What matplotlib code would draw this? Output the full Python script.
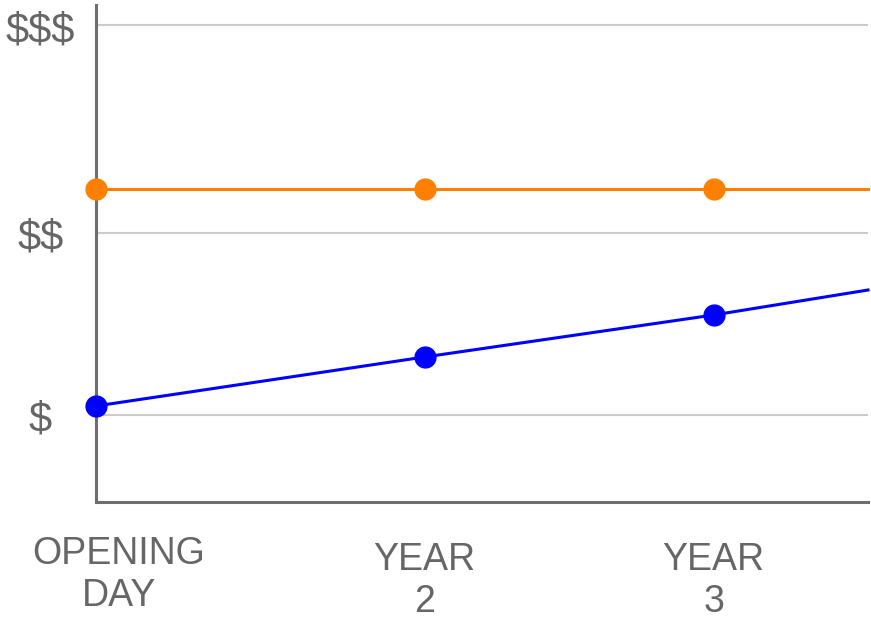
import matplotlib
matplotlib.use("Agg")
import matplotlib.pyplot as plt
import matplotlib.transforms as mtransforms

# data (arbitrary units)
periods = ["OPENING\nDAY", "YEAR\n2", "YEAR\n3"]
period_x = [0.0, 1.0, 1.88]
orange_vals = [3.13, 3.13, 3.13]
blue_vals = [0.96, 1.45, 1.87]
# lines continue to the right edge of the plot
line_end_x = 2.35
orange_end = 3.13
blue_end = 2.12

price_ticks = [0.87, 2.69, 4.77]
price_labels = ["$", "$$", "$$$"]

plt.rcParams['font.family'] = ['Liberation Sans', 'DejaVu Sans']
plt.rcParams['text.parse_math'] = False

fig = plt.figure(figsize=(8.71, 6.2), dpi=100)
ax = fig.add_axes([96 / 871, 118 / 620, 772 / 871, 497 / 620])

orange = "#ff8000"
blue = "#0000ff"

ax.plot(period_x + [line_end_x], orange_vals + [orange_end], color=orange, lw=2.2,
        clip_on=False, zorder=3)
ax.plot(period_x, orange_vals, "o", color=orange, ms=15, clip_on=False, zorder=4)
ax.plot(period_x + [line_end_x], blue_vals + [blue_end], color=blue, lw=2.2,
        clip_on=False, zorder=3)
ax.plot(period_x, blue_vals, "o", color=blue, ms=15, clip_on=False, zorder=4)

ax.set_xlim(0.009, line_end_x)
ax.set_ylim(0, 4.97)

ax.set_yticks(price_ticks)
ax.set_yticklabels(price_labels, fontsize=30)
ax.set_xticks(period_x)
ax.set_xticklabels(periods, linespacing=1.22, fontsize=27)

ax.grid(axis="y", color="#cccccc", lw=1.5)
ax.set_axisbelow(True)
ax.tick_params(length=0, labelcolor="#666666")
ax.tick_params(axis="y", pad=40)
ax.tick_params(axis="x", pad=29)

# y labels sit a little below their gridlines
down = mtransforms.ScaledTranslation(0.0, -0.06, fig.dpi_scale_trans)
for lab in ax.get_yticklabels():
    lab.set_horizontalalignment("center")
    lab.set_verticalalignment("center")
    lab.set_transform(lab.get_transform() + down)

# first x label is nudged right (and a bit up) in the reference
first = ax.get_xticklabels()[0]
first.set_transform(first.get_transform() +
                    mtransforms.ScaledTranslation(0.23, 0.06, fig.dpi_scale_trans))

for s in ["top", "right"]:
    ax.spines[s].set_visible(False)
for s in ["left", "bottom"]:
    ax.spines[s].set_color("#6e6e6e")
    ax.spines[s].set_linewidth(2.2)

fig.savefig("out.png", dpi=100)
